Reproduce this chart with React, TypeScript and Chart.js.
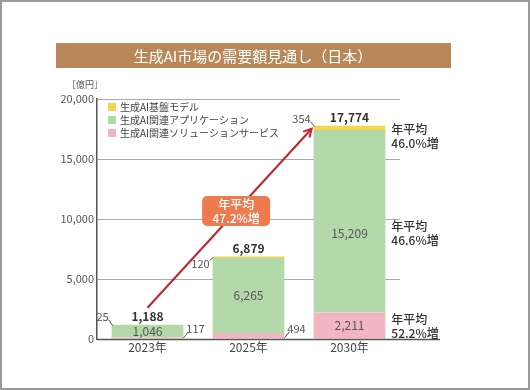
import React, { useEffect, useRef } from "react";
import { Chart, registerables } from "chart.js";

Chart.register(...registerables);

const TITLE = "生成AI市場の需要額見通し（日本）";
const UNIT = "［億円］";
const categories = ["2023年", "2025年", "2030年"];
const legendNames = ["生成AI基盤モデル", "生成AI関連アプリケーション", "生成AI関連ソリューションサービス"];
const foundation = [25, 120, 354];
const application = [1046, 6265, 15209];
const solution = [117, 494, 2211];
const totals = [1188, 6879, 17774];
const yTicks = [0, 5000, 10000, 15000, 20000];
const cagrTotal = ["年平均", "47.2%増"];
const cagrFoundation = ["年平均", "46.0%増"];
const cagrApplication = ["年平均", "46.6%増"];
const cagrSolution = ["年平均", "52.2%増"];

const C_YELLOW = "#F6D44E";
const C_GREEN = "#B3D9AA";
const C_PINK = "#F3B5C1";
const FONT = '"Noto Sans CJK JP", "Noto Sans", sans-serif';

const fmt = (v: number) => v.toLocaleString("en-US");

const decor = {
  id: "decor",
  beforeDraw(chart: any) {
    const ctx = chart.ctx;
    const W = chart.width, H = chart.height;
    ctx.save();
    ctx.fillStyle = "#fff";
    ctx.fillRect(0, 0, W, H);
    ctx.strokeStyle = "#9a9a9a";
    ctx.lineWidth = 2;
    ctx.strokeRect(1, 1, W - 2, H - 2);
    // title banner
    ctx.fillStyle = "#B8885B";
    ctx.fillRect(56, 43, 395, 25);
    ctx.fillStyle = "#fff";
    ctx.font = `400 15px ${FONT}`;
    ctx.textAlign = "center";
    ctx.textBaseline = "middle";
    ctx.fillText(TITLE, 253, 56);
    // unit
    ctx.fillStyle = "#555";
    ctx.font = `9px ${FONT}`;
    ctx.textAlign = "left";
    ctx.fillText(UNIT, 67, 85);
    ctx.restore();
  },
  afterDatasetsDraw(chart: any) {
    const ctx = chart.ctx;
    const area = chart.chartArea;
    const y = chart.scales.y;
    const mPink = chart.getDatasetMeta(0).data;
    const mGreen = chart.getDatasetMeta(1).data;
    const mYellow = chart.getDatasetMeta(2).data;
    ctx.save();

    // extended x axis line
    ctx.strokeStyle = "#555";
    ctx.lineWidth = 1.5;
    ctx.beginPath();
    ctx.moveTo(area.left, area.bottom + 0.5);
    ctx.lineTo(area.right + 40, area.bottom + 0.5);
    ctx.stroke();

    // legend
    const legendColors = [C_YELLOW, C_GREEN, C_PINK];
    ctx.font = `10px ${FONT}`;
    ctx.textAlign = "left";
    ctx.textBaseline = "middle";
    legendNames.forEach((n, i) => {
      const ly = area.top + 8 + i * 13;
      ctx.fillStyle = legendColors[i];
      ctx.fillRect(area.left + 11, ly - 4, 8, 8);
      ctx.fillStyle = "#444";
      ctx.fillText(n, area.left + 23, ly);
    });

    const foundationDy = [-8, 7, -7];
    for (let i = 0; i < categories.length; i++) {
      const bp = mPink[i], bg = mGreen[i];
      const left = bg.x - bg.width / 2;
      const right = bg.x + bg.width / 2;
      const top = y.getPixelForValue(totals[i]);
      const bottom = y.getPixelForValue(0);

      // total labels
      ctx.fillStyle = "#333";
      ctx.font = `bold 12px ${FONT}`;
      ctx.textAlign = "center";
      ctx.textBaseline = "middle";
      ctx.fillText(fmt(totals[i]), bg.x, top - 8);

      // application label inside
      const gMid = (bg.y + bg.base) / 2 + (i === 2 ? 12 : 0);
      ctx.fillStyle = "#555";
      ctx.font = `12px ${FONT}`;
      ctx.fillText(fmt(application[i]), bg.x, gMid);

      // foundation label with leader
      ctx.strokeStyle = "#555";
      ctx.lineWidth = 1;
      const fy = top + foundationDy[i];
      ctx.beginPath();
      ctx.moveTo(left + 1, top + 1);
      ctx.lineTo(left - 3, fy + (foundationDy[i] < 0 ? 3 : -3));
      ctx.stroke();
      ctx.font = `11px ${FONT}`;
      ctx.textAlign = "right";
      ctx.fillText(fmt(foundation[i]), left - 3, fy);

      // solution label
      const pMid = (bp.y + bp.base) / 2;
      if (bp.base - bp.y > 16) {
        ctx.textAlign = "center";
        ctx.font = `12px ${FONT}`;
        ctx.fillText(fmt(solution[i]), bp.x, pMid);
      } else {
        ctx.beginPath();
        ctx.moveTo(right, bottom - 1);
        ctx.lineTo(right + 5, bottom - 7);
        ctx.stroke();
        ctx.textAlign = "left";
        ctx.font = `11px ${FONT}`;
        ctx.fillText(fmt(solution[i]), right + 3, bottom - 10);
      }
    }

    // right CAGR annotations for last bar
    const last = categories.length - 1;
    const g = mGreen[last], p = mPink[last];
    const ax = g.x + g.width / 2 + 6;
    const topLast = y.getPixelForValue(totals[last]);
    ctx.fillStyle = "#333";
    ctx.font = `500 12px ${FONT}`;
    ctx.textAlign = "left";
    ctx.textBaseline = "middle";
    const two = (lines: string[], cy: number) => {
      ctx.fillText(lines[0], ax, cy - 7);
      ctx.fillText(lines[1], ax, cy + 7);
    };
    two(cagrFoundation, topLast + 11);
    two(cagrApplication, (g.y + g.base) / 2 + 12);
    two(cagrSolution, (p.y + p.base) / 2 + 1);

    // arrow
    const first = mGreen[0];
    const x0 = first.x, y0 = y.getPixelForValue(totals[0]) - 17;
    const x1 = g.x - g.width / 2 - 2, y1 = topLast + 3;
    ctx.strokeStyle = "#C4212C";
    ctx.lineWidth = 2;
    ctx.beginPath();
    ctx.moveTo(x0, y0);
    ctx.lineTo(x1, y1);
    ctx.stroke();
    const ang = Math.atan2(y1 - y0, x1 - x0);
    const hl = 9;
    ctx.beginPath();
    ctx.moveTo(x1 - hl * Math.cos(ang - 0.5), y1 - hl * Math.sin(ang - 0.5));
    ctx.lineTo(x1, y1);
    ctx.lineTo(x1 - hl * Math.cos(ang + 0.5), y1 - hl * Math.sin(ang + 0.5));
    ctx.stroke();

    // arrow label box
    const t = 0.54;
    const bx = x0 + (x1 - x0) * t, byy = y0 + (y1 - y0) * t;
    const bw = 68, bh = 30;
    ctx.fillStyle = "#EE7B50";
    ctx.beginPath();
    (ctx as any).roundRect(bx - bw / 2, byy - bh / 2, bw, bh, 5);
    ctx.fill();
    ctx.fillStyle = "#fff";
    ctx.font = `500 12px ${FONT}`;
    ctx.textAlign = "center";
    ctx.fillText(cagrTotal[0], bx, byy - 7);
    ctx.fillText(cagrTotal[1], bx, byy + 7);

    ctx.restore();
  },
};

export default function App() {
  const ref = useRef<HTMLCanvasElement>(null);
  useEffect(() => {
    if (!ref.current) return;
    const chart = new Chart(ref.current, {
      type: "bar",
      data: {
        labels: categories,
        datasets: [
          { label: legendNames[2], data: solution, backgroundColor: C_PINK },
          { label: legendNames[1], data: application, backgroundColor: C_GREEN },
          { label: legendNames[0], data: foundation, backgroundColor: C_YELLOW },
        ],
      },
      options: {
        responsive: false,
        animation: false,
        events: [],
        layout: { padding: { left: 57, right: 130, top: 99, bottom: 31 } },
        datasets: { bar: { barPercentage: 0.71, categoryPercentage: 1, borderWidth: 0 } },
        plugins: { legend: { display: false }, tooltip: { enabled: false }, title: { display: false } },
        scales: {
          x: {
            stacked: true,
            grid: { display: false, drawTicks: false },
            border: { display: false },
            ticks: { color: "#444", font: { family: FONT, size: 12 }, padding: 1 },
            afterFit: (s: any) => { s.height = 20; },
          },
          y: {
            stacked: true,
            min: 0,
            max: 20000,
            afterBuildTicks: (s: any) => { s.ticks = yTicks.map((v) => ({ value: v })); },
            ticks: {
              color: "#555",
              font: { family: FONT, size: 11 },
              padding: 3,
              callback: (v: any) => fmt(Number(v)),
            },
            grid: { color: "#aaa", drawTicks: false, lineWidth: 1 },
            border: { display: true, color: "#555", width: 1.5 },
            afterFit: (s: any) => { s.width = 40; },
          },
        },
      },
      plugins: [decor],
    });
    return () => chart.destroy();
  }, []);
  return (
    <div style={{ position: "fixed", left: 0, top: 0, width: 530, height: 390 }}>
      <canvas ref={ref} width={530} height={390} style={{ display: "block" }} />
    </div>
  );
}
